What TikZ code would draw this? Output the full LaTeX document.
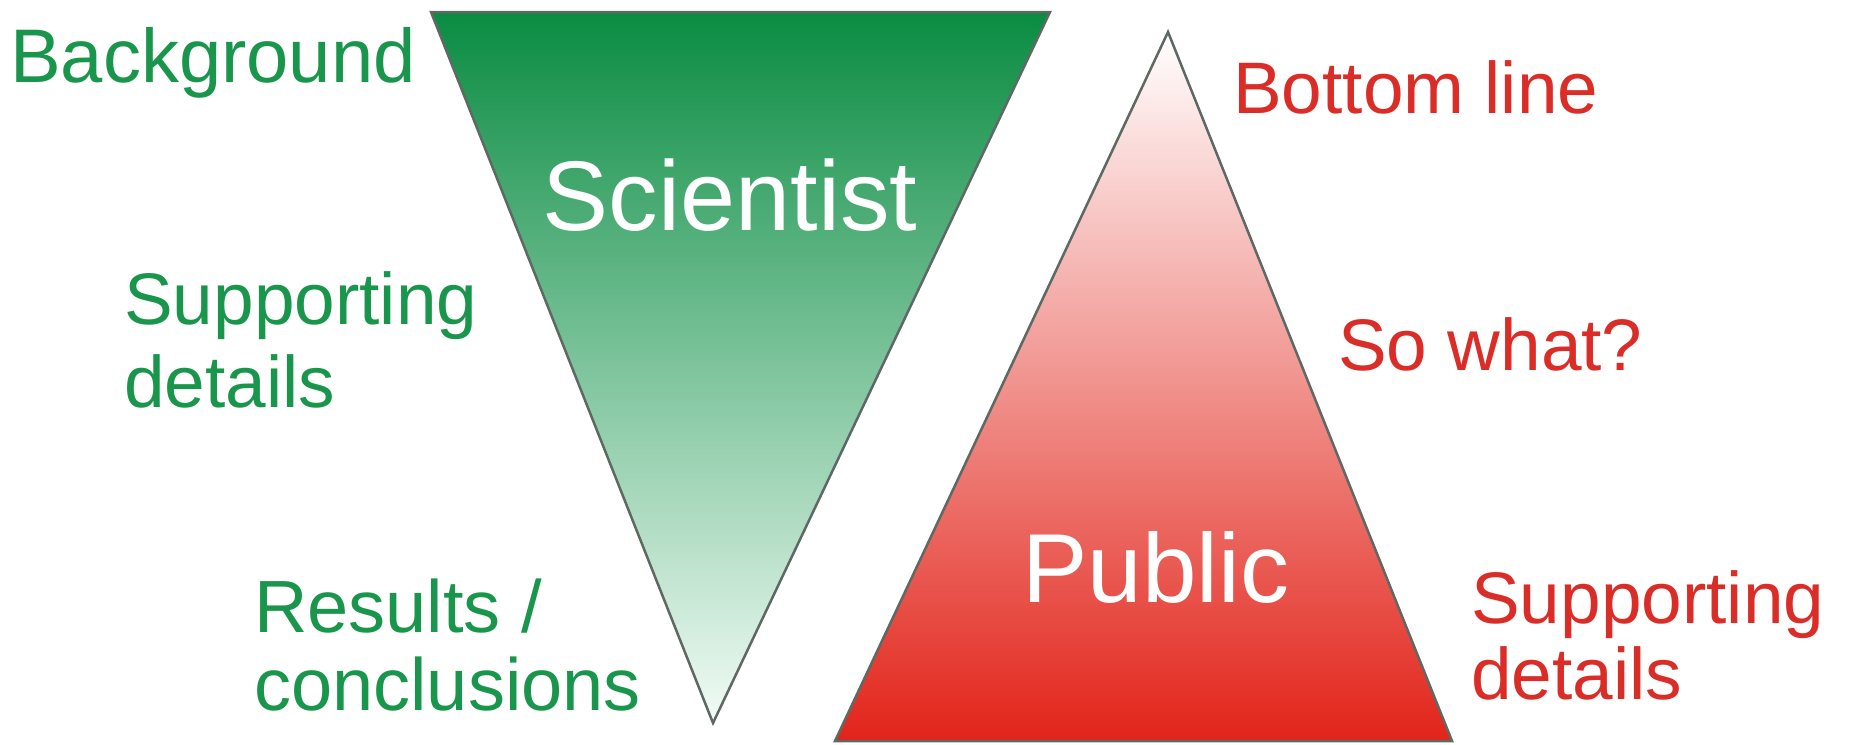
\documentclass[tikz,border=0pt]{standalone}
\usepackage{fontspec}
\setmainfont{Liberation Sans}
\definecolor{scigreen}{RGB}{25,150,75}
\definecolor{pubred}{RGB}{218,45,40}
\definecolor{edgegray}{RGB}{95,105,100}
\tikzset{
  lbl/.style={anchor=base west, inner sep=0pt, font=\fontsize{73}{80}\selectfont},
  greenlbl/.style={lbl, text=scigreen},
  redlbl/.style={lbl, text=pubred},
  title/.style={anchor=base, inner sep=0pt, text=white, font=\fontsize{99}{110}\selectfont},
  tri/.style={draw=edgegray, line width=2.5pt, line join=miter}
}
\begin{document}
\begin{tikzpicture}[x=1pt,y=-1pt]
\useasboundingbox (0,0) rectangle (1854,744);
% corners of the two triangles
\coordinate (gtl) at (431,12);
\coordinate (gtr) at (1050,12);
\coordinate (gbot) at (713,723);
\coordinate (rtop) at (1168,32);
\coordinate (rbl) at (835,741);
\coordinate (rbr) at (1452,741);
% inverted green triangle
\shade[top color={rgb,255:red,10;green,140;blue,66}, middle color={rgb,255:red,108;green,196;blue,143}, bottom color={rgb,255:red,242;green,252;blue,246}]
  (gtl) -- (gtr) -- (gbot) -- cycle;
\draw[tri] (gtl) -- (gtr) -- (gbot) -- cycle;
% upright red triangle
\shade[top color={rgb,255:red,255;green,255;blue,255}, middle color={rgb,255:red,242;green,152;blue,147}, bottom color={rgb,255:red,226;green,36;blue,26}]
  (rtop) -- (rbr) -- (rbl) -- cycle;
\draw[tri] (rtop) -- (rbr) -- (rbl) -- cycle;
% titles
\node[title] (sci) at (730,230) {Scientist};
\node[title, font=\fontsize{98}{110}\selectfont] (pub) at (1156,602) {Public};
% left-hand labels
\node[greenlbl, font=\fontsize{76}{84}\selectfont] (bg) at (10,82) {Background};
\node[greenlbl] (sd1) at (124,324) {Supporting};
\node[greenlbl] (sd2) at (124,407) {details};
\node[greenlbl, font=\fontsize{74}{80}\selectfont] (rc1) at (254,632) {Results /};
\node[greenlbl, font=\fontsize{74}{80}\selectfont] (rc2) at (254,710) {conclusions};
% right-hand labels
\node[redlbl] (bl) at (1233,113) {Bottom line};
\node[redlbl] (sw) at (1338,370) {So what?};
\node[redlbl] (rs1) at (1471,623) {Supporting};
\node[redlbl] (rs2) at (1471,699) {details};
\end{tikzpicture}
\end{document}
